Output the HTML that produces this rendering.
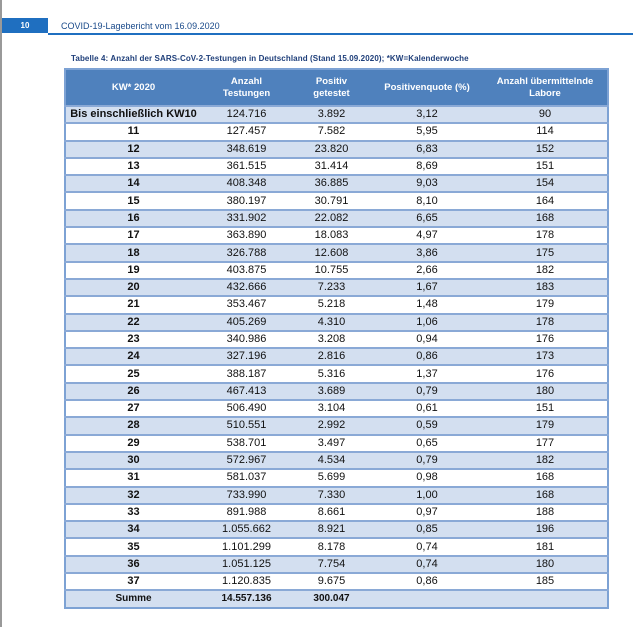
<!DOCTYPE html>
<html><head><meta charset="utf-8"><style>
body{margin:0;width:633px;height:627px;background:#fff;position:relative;overflow:hidden;font-family:"Liberation Sans",sans-serif}
.lb{position:absolute;left:0;top:0;width:2px;height:627px;background:#999}
.hb{position:absolute;left:2px;top:18px;width:46px;height:15px;background:#1f6fc0;color:#fff;font-size:8px;font-weight:bold;line-height:15px;text-align:center}
.hl{position:absolute;left:48px;top:33px;width:585px;height:1.5px;background:#1f6fc0}
.ht{position:absolute;left:61px;top:21px;font-size:9px;color:#1a4a8a}
.tt{position:absolute;left:71px;top:54px;font-size:8px;font-weight:bold;color:#1f3f7a;letter-spacing:0.1px}
table{position:absolute;left:64px;top:68px;width:545px;border-collapse:collapse;border:2px solid #7da2d4}
td,th{padding:0;text-align:center;font-size:11px;color:#111}
th{background:#4f81bd;color:#fff;font-size:9.5px;font-weight:bold;height:35px;line-height:12px}
td{height:15.3px;line-height:15px;border-top:2px solid #8aa9d6}
tr.b td{background:#d3dff0}
td:first-child{font-weight:bold}
tr.s td{font-weight:bold;font-size:10px}
</style></head><body>
<div class="lb"></div><div class="hb">10</div><div class="hl"></div>
<div class="ht">COVID-19-Lagebericht vom 16.09.2020</div>
<div class="tt">Tabelle 4: Anzahl der SARS-CoV-2-Testungen in Deutschland (Stand 15.09.2020); *KW=Kalenderwoche</div>
<table>
<colgroup><col style="width:136px"><col style="width:91px"><col style="width:79px"><col style="width:112px"><col style="width:125px"></colgroup>
<tr><th>KW* 2020</th><th>Anzahl<br>Testungen</th><th>Positiv<br>getestet</th><th>Positivenquote (%)</th><th>Anzahl übermittelnde<br>Labore</th></tr>
<tr class="b"><td>Bis einschließlich KW10</td><td>124.716</td><td>3.892</td><td>3,12</td><td>90</td></tr>
<tr><td>11</td><td>127.457</td><td>7.582</td><td>5,95</td><td>114</td></tr>
<tr class="b"><td>12</td><td>348.619</td><td>23.820</td><td>6,83</td><td>152</td></tr>
<tr><td>13</td><td>361.515</td><td>31.414</td><td>8,69</td><td>151</td></tr>
<tr class="b"><td>14</td><td>408.348</td><td>36.885</td><td>9,03</td><td>154</td></tr>
<tr><td>15</td><td>380.197</td><td>30.791</td><td>8,10</td><td>164</td></tr>
<tr class="b"><td>16</td><td>331.902</td><td>22.082</td><td>6,65</td><td>168</td></tr>
<tr><td>17</td><td>363.890</td><td>18.083</td><td>4,97</td><td>178</td></tr>
<tr class="b"><td>18</td><td>326.788</td><td>12.608</td><td>3,86</td><td>175</td></tr>
<tr><td>19</td><td>403.875</td><td>10.755</td><td>2,66</td><td>182</td></tr>
<tr class="b"><td>20</td><td>432.666</td><td>7.233</td><td>1,67</td><td>183</td></tr>
<tr><td>21</td><td>353.467</td><td>5.218</td><td>1,48</td><td>179</td></tr>
<tr class="b"><td>22</td><td>405.269</td><td>4.310</td><td>1,06</td><td>178</td></tr>
<tr><td>23</td><td>340.986</td><td>3.208</td><td>0,94</td><td>176</td></tr>
<tr class="b"><td>24</td><td>327.196</td><td>2.816</td><td>0,86</td><td>173</td></tr>
<tr><td>25</td><td>388.187</td><td>5.316</td><td>1,37</td><td>176</td></tr>
<tr class="b"><td>26</td><td>467.413</td><td>3.689</td><td>0,79</td><td>180</td></tr>
<tr><td>27</td><td>506.490</td><td>3.104</td><td>0,61</td><td>151</td></tr>
<tr class="b"><td>28</td><td>510.551</td><td>2.992</td><td>0,59</td><td>179</td></tr>
<tr><td>29</td><td>538.701</td><td>3.497</td><td>0,65</td><td>177</td></tr>
<tr class="b"><td>30</td><td>572.967</td><td>4.534</td><td>0,79</td><td>182</td></tr>
<tr><td>31</td><td>581.037</td><td>5.699</td><td>0,98</td><td>168</td></tr>
<tr class="b"><td>32</td><td>733.990</td><td>7.330</td><td>1,00</td><td>168</td></tr>
<tr><td>33</td><td>891.988</td><td>8.661</td><td>0,97</td><td>188</td></tr>
<tr class="b"><td>34</td><td>1.055.662</td><td>8.921</td><td>0,85</td><td>196</td></tr>
<tr><td>35</td><td>1.101.299</td><td>8.178</td><td>0,74</td><td>181</td></tr>
<tr class="b"><td>36</td><td>1.051.125</td><td>7.754</td><td>0,74</td><td>180</td></tr>
<tr><td>37</td><td>1.120.835</td><td>9.675</td><td>0,86</td><td>185</td></tr>
<tr class="b s"><td>Summe</td><td>14.557.136</td><td>300.047</td><td></td><td></td></tr>
</table>
</body></html>
